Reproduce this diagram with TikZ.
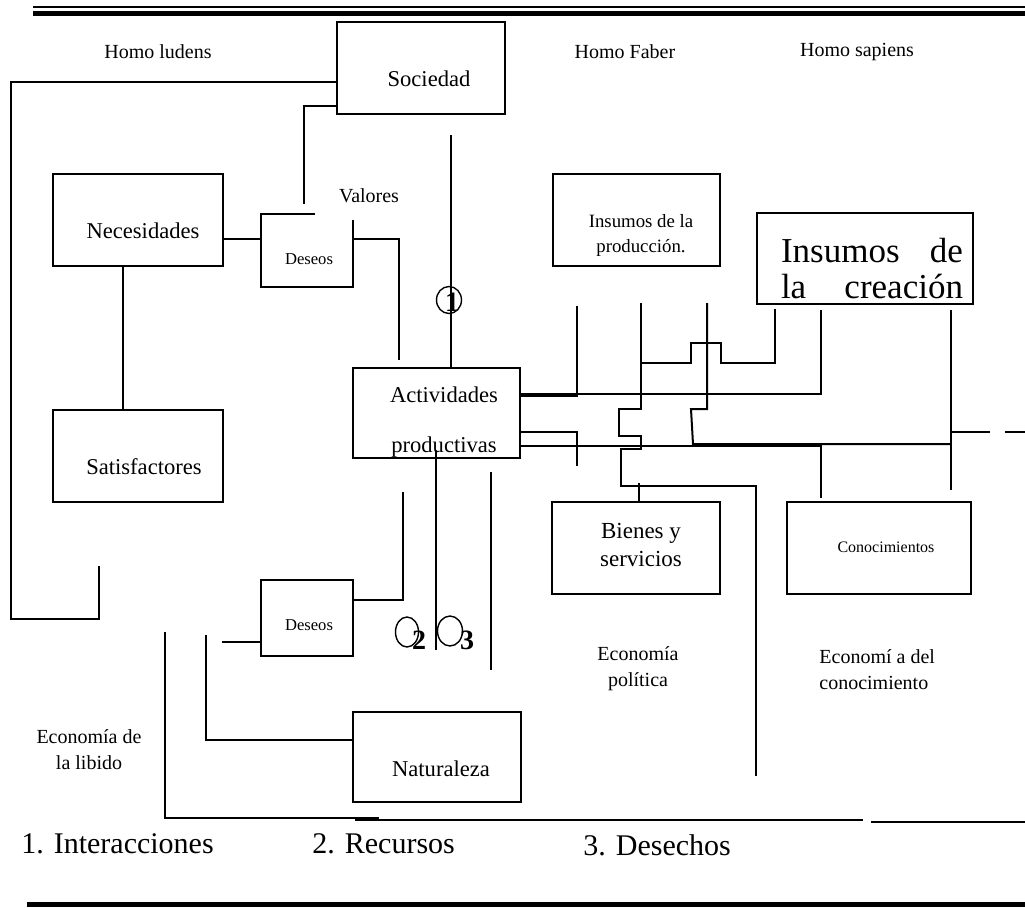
\documentclass[tikz,border=0pt]{standalone}
\usepackage{fontspec}
\setmainfont{Liberation Serif}
\usepackage{tikz}
\usetikzlibrary{shapes.geometric, positioning}

\begin{document}
\begin{tikzpicture}[
    x=0.5pt, y=-0.5pt,
    box/.style={rectangle, draw, line width=1pt, inner sep=0pt},
    txt/.style={inner sep=0pt, align=center, font=\fontsize{11.3}{14}\selectfont},
    smalltxt/.style={txt, font=\fontsize{8.3}{10}\selectfont},
    lbl/.style={txt, font=\fontsize{10}{13}\selectfont},
    legend/.style={inner sep=0pt, anchor=west, font=\fontsize{15}{18}\selectfont},
    ring/.style={ellipse, draw, line width=0.7pt, inner sep=0pt},
    num/.style={inner sep=0pt, font=\fontsize{14}{14}\selectfont\bfseries},
    link/.style={line width=1pt}
]
\useasboundingbox (0,0) rectangle (1025,907);

% Header and footer rules
\draw[line width=0.75pt] (33,7) -- (1025,7);
\fill (33,10.5) rectangle (1025,15.5);
\fill (27,902) rectangle (1025,907);

% Column titles
\node[lbl] (homoludens) at (158,52) {Homo ludens};
\node[lbl] (homofaber) at (625,52) {Homo Faber};
\node[lbl] (homosapiens) at (857,52) {Homo sapiens};

% Left column
\node[box, minimum width=84pt, minimum height=46pt] (sociedad) at (421,68) {};
\node[txt] (sociedad-t) at (429,79) {Sociedad};
\node[box, minimum width=85pt, minimum height=46pt] (necesidades) at (138,220) {};
\node[txt] (necesidades-t) at (143,231) {Necesidades};
\node[box, minimum width=85pt, minimum height=46pt] (satisfactores) at (138,456) {};
\node[txt] (satisfactores-t) at (144,467) {Satisfactores};
\node[minimum width=46pt, minimum height=36.5pt, inner sep=0pt] (deseosA) at (307,250.5) {};
\draw[link] (deseosA.north west -| 315,0) -- (deseosA.north west) -- (deseosA.south west)
    -- (deseosA.south east) -- (deseosA.east |- 0,220);
\node[smalltxt] (deseosA-t) at (309,259) {Deseos};
\node[lbl] (valores) at (369,196) {Valores};
\node[box, minimum width=46pt, minimum height=38pt] (deseosB) at (307,618) {};
\node[smalltxt] (deseosB-t) at (309,625) {Deseos};

% Centre
\node[box, minimum width=83.5pt, minimum height=45pt] (actividades) at (436.5,413) {};
\node[txt] (actividades-t) at (444,395) {Actividades};
\node[txt] (productivas-t) at (444,447) {productivas};
\node[box, minimum width=84pt, minimum height=45pt] (naturaleza) at (437,757) {};
\node[txt] (naturaleza-t) at (441,769) {Naturaleza};

% Right columns
\node[box, minimum width=83.5pt, minimum height=46pt] (insumosP) at (636.5,220) {};
\node[txt, font=\fontsize{9.4}{12.5}\selectfont] (insumosP-t) at (641,235.5) {Insumos de la\\producción.};
\node[box, minimum width=108pt, minimum height=45.5pt] (insumosC) at (865,258.5) {};
\node[txt, font=\fontsize{17.5}{18}\selectfont] (insumosC-t) at (872,269)
    {\makebox[91pt][s]{Insumos de}\\\makebox[91pt][s]{la creación}};
\node[box, minimum width=84pt, minimum height=46pt] (bienes) at (636,548) {};
\node[txt, font=\fontsize{11.5}{14}\selectfont] (bienes-t) at (641,545) {Bienes y\\servicios};
\node[box, minimum width=92pt, minimum height=46pt] (conocimientos) at (879,548) {};
\node[txt, font=\fontsize{8}{10}\selectfont] (conocimientos-t) at (886,547) {Conocimientos};

% Economy labels
\node[lbl] (econlibido) at (89,750) {Economía de\\la libido};
\node[lbl] (econpolitica) at (638,669) {Economía\\política};
\node[lbl, anchor=west, align=left] (econconoc) at (819,670) {Economí a del\\conocimiento};

% Free ends
\coordinate (loopend) at (99,566);
\coordinate (valtop) at (304,204);
\coordinate (valdown) at (399,360);
\coordinate (onetop) at (451,135);
\coordinate (prodA) at (577,306);
\coordinate (prodB) at (641,303);
\coordinate (prodC) at (707,303);
\coordinate (creaA) at (775,309);
\coordinate (creaB) at (821,310);
\coordinate (creaC) at (951,310);
\coordinate (outA) at (577,466);
\coordinate (conoA) at (821,498);
\coordinate (conoB) at (951,490);
\coordinate (polend) at (756,776);

% Links on the left
\draw[link] (sociedad.west |- 0,82) -| (11,619) -| (loopend);
\draw[link] (sociedad.west |- 0,106) -| (valtop);
\draw[link] (necesidades.east |- 0,239) -- (deseosA.west |- 0,239);
\draw[link] (deseosA.east |- 0,239) -| (valdown);
\draw[link] (necesidades.south -| 123,0) -- (satisfactores.north -| 123,0);
\draw[link] (onetop) -- (actividades.north -| onetop);

% Links on the right
\draw[link] (actividades.east |- 0,396) -| (prodA);
\draw[link] (actividades.east |- 0,394) -| (creaB);
\draw[link] (actividades.east |- 0,432) -| (outA);
\draw[link] (actividades.east |- 0,446) -| (conoA);
\draw[link] (prodB) |- (619,409) |- (641,436) |- (621,449) |- (756,486) -- (polend);
\draw[link] (639,486) -- (bienes.north -| 639,0) -- ++(0,-18);
\draw[link] (prodB |- 0,363) -| (691,343) -| (721,363) -| (creaA);
\draw[link] (prodC) |- (691,409) -- (693,444) -- (951,444);
\draw[link] (creaC) -- (conoB);
\draw[link] (951,432) -- (990,432);
\draw[link] (1005,432) -- (1025,432);

% Links at the bottom
\draw[link] (deseosB.east |- 0,600) -| (403,492);
\draw[link] (deseosB.west |- 0,642) -- (222,642);
\draw[link] (206,635) |- (naturaleza.west |- 0,740);
\draw[link] (165,632) |- (379,818);
\draw[link] (355,820) -- (863,820);
\draw[link] (871,822) -- (1025,822);
\draw[link] (436,450) -- (436,650);
\draw[link] (491,472) -- (491,670);

% Numbered markers
\node[ring, minimum width=12.5pt, minimum height=13.5pt] (ring1) at (449,300) {};
\node[num] (num1) at (452,302) {1};
\node[ring, minimum width=11.5pt, minimum height=15pt] (ring2) at (407,632) {};
\node[num] (num2) at (419,640) {2};
\node[ring, minimum width=12.5pt, minimum height=15pt] (ring3) at (450,631) {};
\node[num] (num3) at (467,640) {3};

% Legend
\node[legend] (leg1) at (21,844) {1.\hspace{0.33em}Interacciones};
\node[legend] (leg2) at (312,844) {2. Recursos};
\node[legend] (leg3) at (583,845) {3. Desechos};

\end{tikzpicture}
\end{document}
